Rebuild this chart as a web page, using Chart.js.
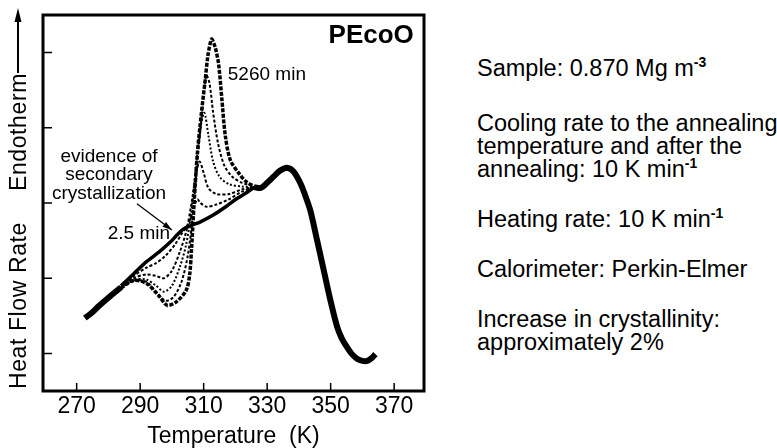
<!DOCTYPE html>
<html>
<head>
<meta charset="utf-8">
<script src="https://cdn.jsdelivr.net/npm/chart.js@4"></script>
<style>
  html, body { margin: 0; padding: 0; background: #fff; }
  body { width: 777px; height: 448px; position: relative; overflow: hidden;
         font-family: 'Liberation Sans', Arial, sans-serif; color: #000; }
  #plot { position: absolute; left: 0; top: 0; }
  .note { position: absolute; left: 477px; font-size: 23.5px; line-height: 23px; white-space: nowrap; }
  .note sup { font-size: 14px; vertical-align: 9px; line-height: 0; font-weight: bold; }
</style>
</head>
<body>
<canvas id="plot" width="430" height="448"></canvas>

<div class="note" style="top:57px">Sample: 0.870 Mg m<sup>-3</sup></div>
<div class="note" style="top:112px">Cooling rate to the annealing<br>temperature and after the<br>annealing: 10 K min<sup>-1</sup></div>
<div class="note" style="top:208px">Heating rate: 10 K min<sup>-1</sup></div>
<div class="note" style="top:258px">Calorimeter: Perkin-Elmer</div>
<div class="note" style="top:308px">Increase in crystallinity:<br>approximately 2%</div>

<script>
/* ---------- data (T in K, heat flow in arbitrary units) ---------- */
const xTicks = [270, 290, 310, 330, 350, 370];
const yTicks = [1, 2, 3, 4, 5];

// part shared by every annealing time
const commonLow = [[272.6,1.47],[274.5,1.53],[277,1.63],[280,1.74],[284,1.88]];
const commonHigh = [[326,3.21],[328,3.2],[330,3.27],[332,3.35],[334,3.43],[336.2,3.47],[338.3,3.42],
  [340.4,3.27],[342,3.1],[343.6,2.9],[345.7,2.51],[347.8,2.11],[349.9,1.71],[352,1.36],[353.5,1.2],
  [355.2,1.08],[356.7,0.99],[358.3,0.93],[360,0.9],[361.5,0.9],[363,0.94],[364.1,0.99]];

// annealing-time dependent part
const run2p5 = [[284,1.9],[288,2.06],[292,2.22],[296,2.35],[299.5,2.48],[301.5,2.57],[303.5,2.65],
  [306,2.7],[309,2.75],[313,2.84],[317.3,2.96],[320.5,3.06],[323.6,3.14],[326,3.21]];
const runA = [[284,1.89],[288,2.03],[292,2.14],[295,2.2],[298,2.3],[301,2.45],[303.5,2.62],[305.5,2.75],
  [307,2.95],[308,3.05],[309,3.0],[311,2.95],[314,2.98],[318,3.05],[322,3.15],[326,3.21]];
const runB = [[284,1.88],[288,2.0],[292,2.05],[295,2.03],[297.5,2.0],[300,2.1],[302.5,2.35],[304.5,2.62],
  [306,2.95],[307.5,3.35],[308.7,3.55],[310,3.4],[311.5,3.2],[314,3.12],[318,3.12],[322,3.18],[326,3.21]];
const runC = [[284,1.87],[288,1.98],[292,1.98],[295,1.9],[297.5,1.82],[300,1.9],[302.5,2.15],[304.5,2.45],
  [306,2.85],[307.5,3.45],[309,4.0],[310.2,4.2],[311.5,3.9],[313,3.55],[315,3.35],[318,3.25],[322,3.22],[326,3.21]];
const runD = [[284,1.87],[288,1.97],[292,1.95],[295,1.82],[298,1.7],[300.5,1.75],[303,1.95],[305,2.3],
  [306.5,2.8],[308,3.55],[309.5,4.2],[310.8,4.7],[311.8,4.6],[313,4.2],[314.5,3.8],[316.5,3.5],[319,3.35],
  [322,3.27],[326,3.22]];
const run5260 = [[284,1.87],[288,1.97],[292,1.93],[296,1.76],[298.5,1.64],[301.5,1.69],[304.5,1.84],
  [305.6,2.05],[306.2,2.4],[307,3.0],[308,3.65],[309.3,4.2],[310.5,4.64],[311.3,4.95],[312.2,5.15],
  [312.6,5.18],[313.7,5.06],[314.7,4.85],[315.7,4.4],[316.8,3.9],[318.4,3.57],[321,3.4],[323.5,3.28],[326,3.22]];

const FONT = "'Liberation Sans', Arial, sans-serif";
const pts = arr => arr.map(([x, y]) => ({ x, y }));

function series(label, arr, width, dash) {
  return {
    label, data: pts(arr), borderColor: '#000', borderWidth: width,
    borderDash: dash || [], pointRadius: 0, tension: 0.3, fill: false
  };
}

/* ---------- frame, inward ticks, labels ---------- */
const frame = {
  id: 'frame',
  afterDatasetsDraw(chart) {
    const { ctx, chartArea: a, scales: { x, y } } = chart;
    ctx.save();
    ctx.strokeStyle = '#000';
    ctx.fillStyle = '#000';

    ctx.lineWidth = 1.5;
    ctx.beginPath();
    xTicks.forEach(v => {
      const px = x.getPixelForValue(v);
      ctx.moveTo(px, a.bottom); ctx.lineTo(px, a.bottom - 8);
    });
    yTicks.forEach(v => {
      const py = y.getPixelForValue(v);
      ctx.moveTo(a.left, py); ctx.lineTo(a.left + 9, py);
    });
    ctx.stroke();

    ctx.lineWidth = 3;
    ctx.strokeRect(a.left, a.top, a.right - a.left, a.bottom - a.top);

    // annotations inside the plot
    ctx.textBaseline = 'middle';
    ctx.font = `bold 26px ${FONT}`;
    ctx.textAlign = 'right';
    ctx.fillText('PEcoO', x.getPixelForValue(376.2), y.getPixelForValue(5.22));

    ctx.font = `19px ${FONT}`;
    ctx.textAlign = 'left';
    ctx.fillText('5260 min', x.getPixelForValue(317.6), y.getPixelForValue(4.70));

    ctx.textAlign = 'center';
    const cx = x.getPixelForValue(280.2);
    ctx.fillText('evidence of', cx, y.getPixelForValue(3.61));
    ctx.fillText('secondary', cx, y.getPixelForValue(3.37));
    ctx.fillText('crystallization', cx, y.getPixelForValue(3.12));

    ctx.textAlign = 'right';
    ctx.fillText('2.5 min', x.getPixelForValue(299.4), y.getPixelForValue(2.59));

    // arrow to the 2.5 min curve
    const x0 = x.getPixelForValue(289.0), y0 = y.getPixelForValue(2.99);
    const x1 = x.getPixelForValue(300.0), y1 = y.getPixelForValue(2.64);
    const ang = Math.atan2(y1 - y0, x1 - x0);
    ctx.lineWidth = 1.3;
    ctx.beginPath(); ctx.moveTo(x0, y0); ctx.lineTo(x1, y1); ctx.stroke();
    ctx.beginPath();
    ctx.moveTo(x1, y1);
    ctx.lineTo(x1 - 10 * Math.cos(ang - 0.3), y1 - 10 * Math.sin(ang - 0.3));
    ctx.lineTo(x1 - 10 * Math.cos(ang + 0.3), y1 - 10 * Math.sin(ang + 0.3));
    ctx.closePath(); ctx.fill();

    // y axis title with the endotherm arrow
    ctx.font = `23px ${FONT}`;
    ctx.letterSpacing = '0.6px';
    ctx.textAlign = 'left';
    ctx.textBaseline = 'middle';
    [['Heat Flow Rate', 389], ['Endotherm', 191]].forEach(([t, py]) => {
      ctx.save();
      ctx.translate(20, py);
      ctx.rotate(-Math.PI / 2);
      ctx.fillText(t, 0, 0);
      ctx.restore();
    });
    ctx.lineWidth = 2;
    ctx.beginPath(); ctx.moveTo(18, 73); ctx.lineTo(18, 18); ctx.stroke();
    ctx.beginPath(); ctx.moveTo(18, 8); ctx.lineTo(14.5, 22); ctx.lineTo(21.5, 22); ctx.closePath(); ctx.fill();
    ctx.restore();
  }
};

new Chart(document.getElementById('plot'), {
  type: 'line',
  data: {
    datasets: [
      series('common (low T)', commonLow, 6),
      series('common (high T)', commonHigh, 6),
      series('2.5 min', run2p5, 3.5),
      series('run A', runA, 2, [3, 2]),
      series('run B', runB, 2, [3, 2]),
      series('run C', runC, 2, [2, 2]),
      series('run D', runD, 2, [3, 2]),
      series('5260 min', run5260, 3.5, [4, 1.5])
    ]
  },
  plugins: [frame],
  options: {
    responsive: false,
    animation: false,
    devicePixelRatio: 1,
    layout: { padding: { top: 15, right: 6, left: 0, bottom: 0 } },
    plugins: { legend: { display: false }, tooltip: { enabled: false } },
    scales: {
      x: {
        type: 'linear', min: 259.4, max: 379.4,
        afterBuildTicks: s => { s.ticks = xTicks.map(v => ({ value: v })); },
        afterFit: s => { s.height = 57; },
        grid: { display: false, drawTicks: false },
        border: { display: false },
        ticks: { color: '#000', font: { family: FONT, size: 23 }, padding: 2, maxRotation: 0 },
        title: { display: true, text: 'Temperature  (K)', color: '#000',
                 font: { family: FONT, size: 23, lineHeight: 1 }, padding: { top: 4, bottom: 0 } }
      },
      y: {
        type: 'linear', min: 0.5, max: 5.5,
        afterBuildTicks: s => { s.ticks = yTicks.map(v => ({ value: v })); },
        afterFit: s => { s.width = 43; },
        grid: { display: false, drawTicks: false },
        border: { display: false },
        ticks: { display: false }
      }
    }
  }
});
</script>
</body>
</html>
